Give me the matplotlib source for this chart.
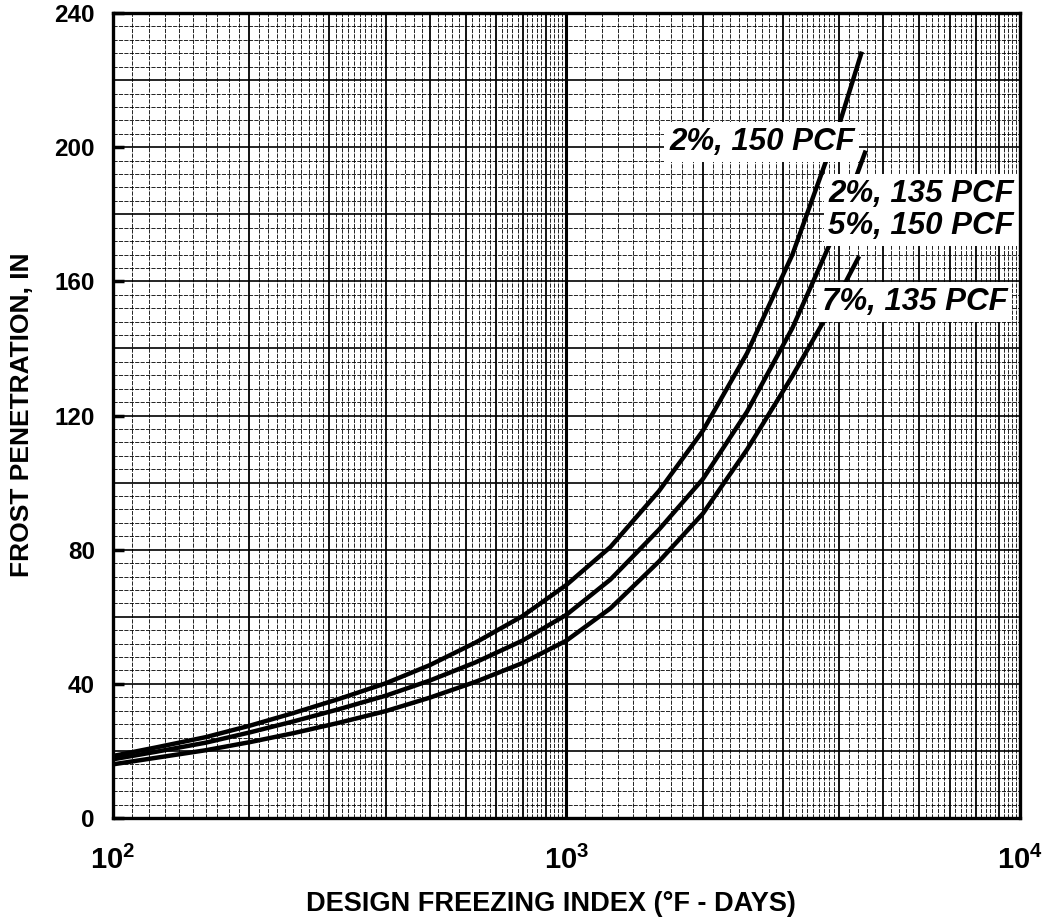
import matplotlib
matplotlib.use("Agg")
import matplotlib.pyplot as plt
import numpy as np
from matplotlib.ticker import NullLocator

# design freezing index (deg F - days) vs frost penetration (in)
index_2pct_150 = [100, 125, 160, 200, 250, 315, 400, 500, 630, 800, 1000, 1250, 1600, 2000, 2500, 3150, 4000, 4480]
depth_2pct_150 = [18.5, 21.1, 24.1, 27.5, 31.3, 35.5, 40.2, 45.6, 52.3, 60.2, 69.5, 80.8, 97.5, 115.5, 138.5, 168, 207, 228.5]

index_5pct_150 = [100, 125, 160, 200, 250, 315, 400, 500, 630, 800, 1000, 1250, 1600, 2000, 2500, 3150, 4000, 4570]
depth_5pct_150 = [17.5, 19.8, 22.45, 25.5, 28.8, 32.45, 36.5, 41, 46.4, 52.9, 60.6, 71.1, 86, 101.1, 121.1, 146.1, 177.6, 199]

index_7pct_135 = [100, 125, 160, 200, 250, 315, 400, 500, 630, 800, 1000, 1250, 1600, 2000, 2500, 3150, 4000, 4420]
depth_7pct_135 = [16, 18, 20.2, 22.6, 25.3, 28.4, 31.9, 35.9, 40.6, 46.2, 52.9, 62.5, 76.5, 90.8, 109.8, 131.8, 156.3, 167.5]

curve_labels = ["2%, 150 PCF", "2%, 135 PCF\n5%, 150 PCF", "7%, 135 PCF"]
y_ticks = [0, 40, 80, 120, 160, 200, 240]
x_ticks = [100, 1000, 10000]


def paper_grid(ax):
    # semi-log graph paper look
    xt = ax.get_xaxis_transform()
    yt = ax.get_yaxis_transform()
    for decade in (100, 1000):
        step1 = decade // 10
        step2 = decade // 5
        fine = list(range(decade + step1, 4 * decade, step1)) + list(range(4 * decade + step2, 10 * decade, step2))
        fine = [v for v in fine if v % decade != 0]
        ax.vlines(fine, 0, 1, transform=xt, colors="black", linewidth=0.6,
                  linestyles=(0, (5, 1.5)), zorder=1)
        ax.vlines([decade * k for k in range(2, 10)], 0, 1, transform=xt,
                  colors="black", linewidth=1.3, zorder=1)
    ax.vlines([1000], 0, 1, transform=xt, colors="black", linewidth=2.2, zorder=1)

    minor_h = [v for v in range(4, 240, 4) if v % 20 != 0]
    ax.hlines(minor_h, 0, 1, transform=yt, colors="black", linewidth=0.6,
              linestyles=(0, (5, 1.5)), zorder=1)
    ax.hlines(list(range(20, 240, 20)), 0, 1, transform=yt, colors="black",
              linewidth=1.2, zorder=1)


def plot_chart(outfile):
    plt.rcParams["font.family"] = ["Liberation Sans", "DejaVu Sans"]
    plt.rcParams["font.weight"] = "bold"
    plt.rcParams["mathtext.fontset"] = "custom"
    plt.rcParams["mathtext.rm"] = "Liberation Sans:bold"
    plt.rcParams["mathtext.bf"] = "Liberation Sans:bold"
    plt.rcParams["mathtext.it"] = "Liberation Sans:italic:bold"

    fig = plt.figure(figsize=(10.43, 9.24), dpi=100)
    ax = fig.add_axes([0.1083, 0.1147, 0.8696, 0.8712])

    ax.set_xscale("log")
    ax.set_xlim(100, 10000)
    ax.set_ylim(0, 240)

    paper_grid(ax)

    for x, y in [(index_2pct_150, depth_2pct_150),
                 (index_5pct_150, depth_5pct_150),
                 (index_7pct_135, depth_7pct_135)]:
        ax.plot(x, y, color="black", linewidth=3.2, solid_capstyle="butt",
                solid_joinstyle="round", zorder=3)

    box = dict(boxstyle="square,pad=0.15", facecolor="white", edgecolor="none")
    label_pos = [(0.7155, 0.840), (0.891, 0.755), (0.884, 0.641)]
    for text, (tx, ty) in zip(curve_labels, label_pos):
        ax.text(tx, ty, text, transform=ax.transAxes, ha="center", va="center",
                fontsize=22.5, fontweight="bold", fontstyle="italic",
                linespacing=1.1, bbox=box, zorder=5)

    ax.set_yticks(y_ticks)
    ax.set_yticklabels([str(v) for v in y_ticks], fontsize=17.5, fontweight="bold")
    ax.set_xticks(x_ticks)
    ax.set_xticklabels([f"$10^{{{int(np.log10(v))}}}$" for v in x_ticks], fontsize=21)
    ax.xaxis.set_minor_locator(NullLocator())
    ax.tick_params(axis="x", length=0, pad=20)
    ax.tick_params(axis="y", direction="in", length=8, width=2.5, pad=13)

    for side in ax.spines.values():
        side.set_linewidth(2.4)
        side.set_zorder(6)

    fig.text(551 / 1043, 1 - 904 / 924, "DESIGN FREEZING INDEX (°F - DAYS)",
             ha="center", va="center", fontsize=19.5, fontweight="bold")
    fig.text(22 / 1043, 1 - 415 / 924, "FROST PENETRATION, IN", rotation=90,
             ha="center", va="center", fontsize=19, fontweight="bold")

    fig.savefig(outfile, dpi=100)


if __name__ == "__main__":
    plot_chart("out.png")
